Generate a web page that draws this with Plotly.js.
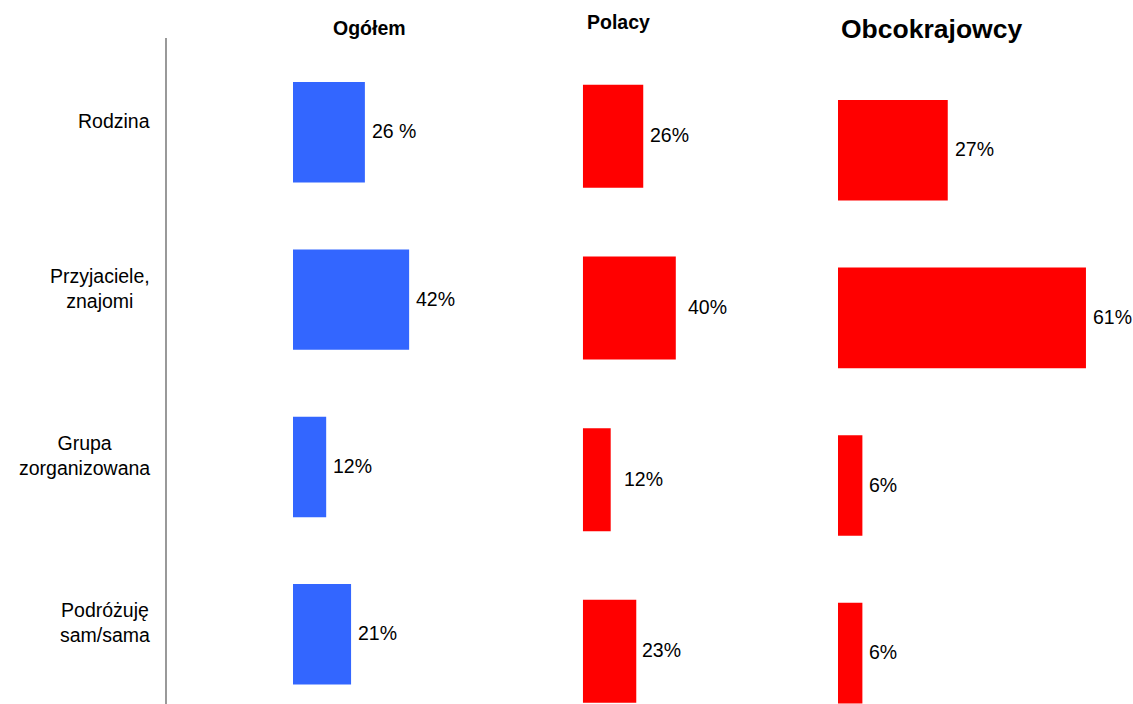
<!DOCTYPE html>
<html>
<head>
<meta charset="utf-8">
<script src="https://cdn.plot.ly/plotly-3.0.1.min.js"></script>
<style>
  html, body { margin: 0; padding: 0; background: #ffffff; }
  #chart { width: 1133px; height: 704px; }
</style>
</head>
<body>
<div id="chart"></div>
<script>
// ---- data ----
const categories = ['Rodzina', 'Przyjaciele,<br>znajomi', 'Grupa<br>zorganizowana', 'Podróżuję<br>sam/sama'];
const panelTitles = ['Ogółem', 'Polacy', 'Obcokrajowcy'];
const ogolemValues = [26, 42, 12, 21];
const polacyValues = [26, 40, 12, 23];
const obcokrajowcyValues = [27, 61, 6, 6];
const ogolemLabels = ['26 %', '42%', '12%', '21%'];
const polacyLabels = ['26%', '40%', '12%', '23%'];
const obcokrajowcyLabels = ['27%', '61%', '6%', '6%'];

// ---- geometry / style ----
const W = 1133, H = 704;
const FONT = 'Arial, "Liberation Sans", sans-serif';
const panels = [
  {values: ogolemValues, labels: ogolemLabels, color: '#3366FF', x0: 293, pxPer: 2.765, max: 50, c0: 132.3, step: 167.33, gaps: [7, 7, 7, 7],
   title: {cx: 369.2, cy: 27.8, size: 19.5}},
  {values: polacyValues, labels: polacyLabels, color: '#FF0000', x0: 582.8, pxPer: 2.325, max: 50, c0: 136.3, step: 171.67, gaps: [7, 12, 13, 6],
   title: {cx: 618.7, cy: 22.2, size: 19.5}},
  {values: obcokrajowcyValues, labels: obcokrajowcyLabels, color: '#FF0000', x0: 838, pxPer: 4.065, max: 70, c0: 150.3, step: 167.6, gaps: [7, 7, 7, 7],
   title: {cx: 931.2, cy: 28.7, size: 26.5}}
];

const traces = [];
const annotations = [];
const layout = {
  width: W, height: H,
  margin: {l: 0, r: 0, t: 0, b: 0, pad: 0},
  paper_bgcolor: '#ffffff',
  plot_bgcolor: 'rgba(0,0,0,0)',
  showlegend: false,
  hovermode: false,
  font: {family: FONT, color: '#000000'},
  shapes: [{
    type: 'line', xref: 'paper', yref: 'paper',
    x0: 166 / W, x1: 166 / W, y0: 0, y1: 1 - 38 / H,
    line: {color: '#808080', width: 1.6}
  }]
};

panels.forEach((p, i) => {
  const sfx = i === 0 ? '' : String(i + 1);
  const xa = 'x' + sfx, ya = 'y' + sfx;
  traces.push({
    type: 'bar', orientation: 'h',
    x: p.values, y: categories,
    xaxis: xa, yaxis: ya,
    width: 0.6,
    marker: {color: p.color, line: {width: 0}},
    hoverinfo: 'skip'
  });
  layout['xaxis' + sfx] = {
    domain: [p.x0 / W, (p.x0 + p.pxPer * p.max) / W],
    range: [0, p.max], anchor: ya,
    visible: false, fixedrange: true
  };
  layout['yaxis' + sfx] = {
    domain: [0, 1], anchor: xa,
    type: 'category', categoryorder: 'array', categoryarray: categories,
    range: [(H - p.c0) / p.step, -p.c0 / p.step],
    visible: false, fixedrange: true
  };
  p.values.forEach((v, j) => {
    annotations.push({
      xref: xa, yref: ya, x: v, y: categories[j],
      text: p.labels[j], showarrow: false,
      xanchor: 'left', yanchor: 'middle',
      xshift: p.gaps[j] - 2, yshift: 1,
      font: {family: FONT, size: 19.5, color: '#000000'}
    });
  });
  annotations.push({
    xref: 'paper', yref: 'paper',
    x: p.title.cx / W, y: 1 - p.title.cy / H,
    text: '<b>' + panelTitles[i] + '</b>', showarrow: false,
    xanchor: 'center', yanchor: 'middle',
    font: {family: FONT, size: p.title.size, color: '#000000'}
  });
});

// category labels (aligned to the first panel's category axis)
categories.forEach((c) => {
  annotations.push({
    xref: 'paper', yref: 'y', x: 152 / W, y: c,
    text: c, showarrow: false,
    xanchor: 'right', yanchor: 'middle', align: 'center',
    yshift: 11.5,
    font: {family: FONT, size: 19.5, color: '#000000'}
  });
});

layout.annotations = annotations;

Plotly.newPlot('chart', traces, layout, {staticPlot: true, displayModeBar: false});
</script>
</body>
</html>
